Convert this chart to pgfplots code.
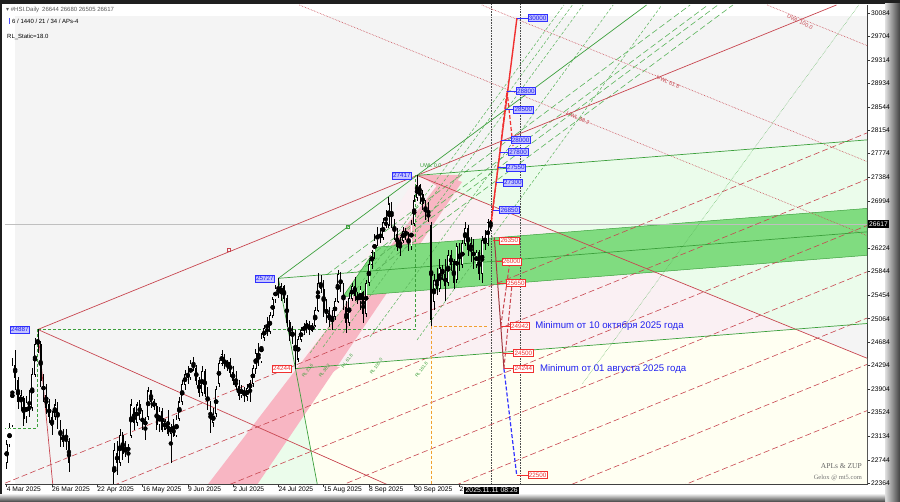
\documentclass[border=0pt]{standalone}
\usepackage{pgfplots}
\pgfplotsset{compat=1.18}
\usepackage{pgfplotstable}
\usepackage{fontspec}
\setmainfont{Liberation Sans}
\newfontfamily\dejavu{DejaVu Sans}
\newfontfamily\serifx{Liberation Serif}

\definecolor{plotbg}{HTML}{F4F4F4}
\definecolor{lgreen}{HTML}{EBFCEB}
\definecolor{lpink}{HTML}{FAF0F3}
\definecolor{cream}{HTML}{FFFFF2}
\definecolor{bandgreen}{HTML}{80DC80}
\definecolor{stripe}{HTML}{F8B6C3}
\definecolor{dred}{HTML}{C84650}
\definecolor{gline}{HTML}{3CA03C}
\definecolor{gdash}{HTML}{5AB45A}
\definecolor{lblfill}{HTML}{C4C4FF}
\definecolor{lblborder}{HTML}{3030FF}
\definecolor{lbltext}{HTML}{2020F0}
\definecolor{mred}{HTML}{F03030}
\definecolor{orng}{HTML}{F0A030}

\pgfplotstableread{
i o h l c
0 22700 23080 22600 23000
1 23000 23350 22950 23280
2 23300 24420 23280 24300
3 24300 24550 23900 24100
4 24050 24100 23580 23700
5 23700 23900 23550 23800
6 23750 23800 23300 23420
7 23450 23800 23350 23700
8 23650 23900 23450 23550
9 23600 24250 23550 24150
10 24150 24750 24100 24650
11 24650 24887 24500 24700
12 24650 24700 23950 24050
13 24050 24150 23700 23800
14 23800 24000 23500 23600
15 23650 23750 23350 23450
16 23450 23550 23150 23300
17 23450 23750 23400 23650
18 23650 23700 23250 23350
19 23350 23400 22950 23050
20 23050 23250 22950 23150
21 23150 23250 22900 23100
22 23050 23100 22550 22700
23 21500 21800 19300 19900
24 20000 20900 19800 20200
25 20200 20700 19900 20300
26 20900 21200 20500 20700
27 20800 21100 20600 20950
28 21200 21600 21100 21450
29 21450 21600 21300 21500
30 21400 21500 21000 21100
31 21100 21500 21000 21400
32 21400 21700 21300 21600
33 21700 22200 21650 22100
34 22000 22100 21800 21900
35 21950 22100 21850 22000
36 22000 22150 21900 22000
37 22000 22250 21850 22200
38 22250 23020 22200 22900
39 22850 23050 22500 22700
40 22700 23250 22650 23150
41 23150 23200 22750 22850
42 22850 23050 22800 22950
43 22950 23000 22700 22900
44 23150 23750 23100 23650
45 23600 23620 23240 23350
46 23350 23700 23300 23650
47 23650 23730 23400 23500
48 23500 23570 23240 23300
49 23300 23450 23070 23400
50 23450 23950 23400 23880
51 23880 23900 23600 23700
52 23700 23750 23560 23620
53 23620 23680 23240 23330
54 23330 23620 23200 23550
55 23550 23600 23200 23250
56 23250 23420 23230 23380
57 23380 23560 23130 23180
58 23180 23330 22700 23280
59 23280 23420 23120 23150
60 23150 23480 23120 23420
61 23420 23780 23380 23700
62 23700 24060 23650 23980
63 23980 24220 23900 24150
64 24150 24280 24000 24100
65 24100 24390 24050 24330
66 24330 24440 24200 24250
67 24250 24300 23980 24050
68 24050 24100 23780 23850
69 23850 24280 23800 24200
70 24200 24230 23780 23830
71 23830 23950 23560 23650
72 23650 23720 23190 23350
73 23350 23600 23280 23500
74 23500 23960 23450 23900
75 24000 24390 23950 24330
76 24330 24550 24280 24480
77 24420 24480 24230 24300
78 24300 24390 24200 24350
79 24350 24420 24100 24180
80 24180 24280 23980 24050
81 24050 24200 23900 23950
82 23950 24050 23730 23800
83 23800 23980 23760 23930
84 23930 23950 23700 23780
85 23780 23990 23720 23920
86 23920 24060 23700 24000
87 24000 24300 23950 24250
88 24250 24560 24150 24500
89 24500 24660 24280 24350
90 24350 24830 24330 24750
91 24750 24960 24700 24900
92 24900 25100 24780 24850
93 24850 25170 24820 25120
94 25120 25420 25080 25380
95 25380 25620 25320 25560
96 25560 25727 25400 25480
97 25480 25650 25350 25600
98 25600 25620 25330 25400
99 25400 25450 24930 25000
100 25000 25050 24700 24780
101 24780 24950 24650 24850
102 24850 24880 24244 24350
103 24400 24780 24350 24720
104 24720 24930 24680 24880
105 24880 25000 24800 24920
106 24920 25050 24830 24980
107 24980 25020 24800 24870
108 24870 24990 24850 24950
109 24950 25260 24930 25200
110 25200 25810 25180 25650
111 25650 25780 25480 25550
112 25550 25700 25100 25200
113 25200 25380 25000 25150
114 25150 25260 24930 25050
115 25050 25200 24880 25100
116 25100 25400 25050 25350
117 25350 25870 25330 25800
118 25800 25830 25500 25550
119 25550 25650 25200 25250
120 25250 25350 24830 25000
121 25000 25480 24950 25400
122 25400 25650 25350 25600
123 25600 25750 25350 25450
124 25450 25500 25300 25350
125 25350 25600 25200 25550
126 25500 25520 25000 25150
127 25150 25700 25100 25650
128 25650 26030 25600 25950
129 25950 26200 25880 26150
130 26150 26450 26050 26350
131 26350 26570 26250 26450
132 26450 26550 26300 26400
133 26400 26720 26350 26650
134 26650 26850 26550 26600
135 26600 27060 26550 26950
136 26950 26980 26550 26650
137 26650 26700 26350 26450
138 26450 26550 26180 26250
139 26250 26400 26100 26350
140 26350 26570 26300 26500
141 26500 26560 26350 26450
142 26450 26480 26180 26250
143 26250 26680 26200 26620
144 26620 27100 26580 27000
145 27050 27417 27000 27250
146 27250 27280 26950 27100
147 27100 27180 26850 26950
148 26950 27010 26680 26800
149 26800 26980 26650 26720
150 26600 26650 24942 25050
151 25350 25800 25200 25700
152 25700 25900 25450 25550
153 25550 26050 25500 25900
154 25900 25950 25700 25800
155 25800 26050 25350 25600
156 25650 26200 25600 26100
157 26100 26200 25850 25950
158 26000 26050 25550 25650
159 25700 26300 25650 26250
160 26250 26300 25850 25950
161 25950 26350 25900 26300
162 26300 26650 26250 26550
163 26550 26600 26100 26200
164 26200 26400 26000 26300
165 26300 26380 25880 25950
166 25950 26200 25900 26150
167 26150 26200 25700 25800
168 25800 26420 25650 26350
169 26350 26520 26200 26300
170 26300 26700 26250 26650
171 26644 26680 26505 26617
}\candles

\tikzset{
  bl/.style={draw=lblborder, fill=lblfill, text=lbltext, font=\fontsize{6.3}{7}\selectfont, inner xsep=1pt, inner ysep=1.3pt, line width=0.5pt, anchor=west},
  rl/.style={draw=mred, fill=white, text=mred, font=\fontsize{6.3}{7}\selectfont, inner xsep=1pt, inner ysep=1.3pt, line width=0.5pt, anchor=west},
  rlg/.style={text=gline, font=\fontsize{4.5}{5}\selectfont, rotate=54, inner sep=0.5pt, anchor=west},
  uwl/.style={text=dred, font=\fontsize{5.5}{6}\selectfont, rotate=-25, inner sep=0.5pt}
}

\begin{document}
\begin{tikzpicture}
\useasboundingbox (0pt,0pt) rectangle (900pt,502pt);
\fill[black!88] (0pt,0pt) rectangle (900pt,502pt);
\fill[white] (2pt,7pt) rectangle (885pt,498pt);
\shade[left color=black!12, right color=black!75] (885pt,0pt) rectangle (900pt,498pt);
\shade[top color=black!15, bottom color=black!75] (0pt,0pt) rectangle (885pt,7pt);

\begin{axis}[
  at={(5pt,18pt)}, anchor=south west, scale only axis,
  width=862pt, height=479pt,
  xmin=-0.6, xmax=304, ymin=22350, ymax=30215,
  axis background/.style={fill=plotbg},
  axis line style={black!75, line width=0.6pt},
  xtick pos=left, ytick pos=right, yticklabel pos=right,
  tick align=outside, major tick length=3pt,
  tick style={black!80, line width=0.5pt},
  xtick={0,16,32,48,64,80,96,112,128,144,160},
  xticklabels={4 Mar 2025,26 Mar 2025,22 Apr 2025,16 May 2025,9 Jun 2025,2 Jul 2025,24 Jul 2025,15 Aug 2025,8 Sep 2025,30 Sep 2025,2},
  xticklabel style={anchor=north west, font=\fontsize{6.7}{7.5}\selectfont, xshift=-1pt, yshift=1.5pt, inner sep=1pt},
  ytick={22364,22744,23134,23524,23904,24294,24684,25064,25454,25844,26224,26994,27384,27774,28154,28544,28934,29314,29704,30084},
  yticklabels={22364,22744,23134,23524,23904,24294,24684,25064,25454,25844,26224,26994,27384,27774,28154,28544,28934,29314,29704,30084},
  yticklabel style={anchor=west, font=\fontsize{6.7}{7.5}\selectfont, xshift=0pt, inner sep=1pt},
]
% white strips
\addplot[fill=white, draw=none] coordinates {(-0.6,30300) (304,30300) (304,30035) (-0.6,30035)} -- cycle;
\addplot[fill=white, draw=none] coordinates {(-0.6,22000) (2.9,22000) (2.9,30300) (-0.6,30300)} -- cycle;
% regions
\addplot[fill=lpink, draw=none] coordinates {(145,27417) (278.7,24891) (102,24244)} -- cycle;
\addplot[fill=lgreen, draw=none] coordinates {(145,27417) (304,28000) (304,26875) (194.9,26475)} -- cycle;
\addplot[fill=lgreen, draw=none] coordinates {(229.0,25830) (304,26105) (304,24985) (278.7,24891)} -- cycle;
\addplot[fill=cream, draw=none] coordinates {(102,24244) (278.7,24891) (304,24415) (304,22284) (110,22284)} -- cycle;
\addplot[fill=lgreen, draw=none] coordinates {(102,24244) (110,22284) (87.7,22284)} -- cycle;
% pink stripe and triangles
\addplot[fill=stripe, draw=none] coordinates {(70.1,22284) (87.7,22284) (160.9,27309) (154.9,27424)} -- cycle;
\addplot[fill=stripe, draw=none] coordinates {(145.4,27424) (160.9,27424) (155.6,27145)} -- cycle;
\addplot[fill=stripe, draw=none] coordinates {(103.6,24271) (117.8,24271) (105.4,23861)} -- cycle;
% green band
\addplot[fill=bandgreen, draw=gline, line width=0.5pt] coordinates {(118.8,25426) (304,26105) (304,26875) (130.9,26240)} -- cycle;

% current price line
\addplot[black!25, line width=0.6pt] coordinates {(-0.6,26617) (304,26617)};

% red dashed parallels
\addplot[dred, line width=0.6pt, dash pattern=on 6pt off 3pt] coordinates {(-0.6,22363) (304,28114)};
\addplot[dred, line width=0.6pt, dash pattern=on 6pt off 3pt] coordinates {(-0.6,21603) (304,27354)};
\addplot[dred, line width=0.6pt, dash pattern=on 6pt off 3pt] coordinates {(-0.6,20843) (304,26594)};
\addplot[dred, line width=0.6pt, dash pattern=on 6pt off 3pt] coordinates {(-0.6,20083) (304,25834)};
\addplot[dred, line width=0.6pt, dash pattern=on 6pt off 3pt] coordinates {(-0.6,19323) (304,25074)};
\addplot[dred, line width=0.6pt, dash pattern=on 6pt off 3pt] coordinates {(-0.6,18563) (304,24314)};
\addplot[dred, line width=0.6pt, dash pattern=on 6pt off 3pt] coordinates {(-0.6,17803) (304,23554)};
% red dotted UWL lines
\addplot[dred, line width=0.6pt, densely dotted] coordinates {(268.7,30215) (304,29549)};
\addplot[dred, line width=0.6pt, densely dotted] coordinates {(167.9,30215) (304,27645)};
\addplot[dred, line width=0.6pt, densely dotted] coordinates {(103.4,30215) (304,26428)};
% green long dash fan
\addplot[gdash, line width=0.6pt, dash pattern=on 6pt off 3pt] coordinates {(113.2,25790) (241.5,30215)};
\addplot[gdash, line width=0.6pt, dash pattern=on 6pt off 3pt] coordinates {(120.3,25816) (247.8,30215)};
\addplot[gdash, line width=0.6pt, dash pattern=on 6pt off 3pt] coordinates {(124.2,25830) (251.3,30215)};
\addplot[gdash, line width=0.6pt, dash pattern=on 6pt off 3pt] coordinates {(130.1,25852) (256.6,30215)};
% green RL fan (dashed, steep)
\addplot[gdash, line width=0.5pt, dash pattern=on 3pt off 2pt] coordinates {(107.2,24501) (196.9,30215)};
\addplot[gdash, line width=0.5pt, dash pattern=on 3pt off 2pt] coordinates {(111.8,24600) (199.9,30215)};
\addplot[gdash, line width=0.5pt, dash pattern=on 3pt off 2pt] coordinates {(118.8,24830) (203.7,30215)};
\addplot[gdash, line width=0.5pt, dash pattern=on 3pt off 2pt] coordinates {(128.4,24764) (214.3,30215)};
\addplot[gdash, line width=0.5pt, dash pattern=on 3pt off 2pt] coordinates {(145,24715) (231.5,30215)};
\addplot[gdash, line width=0.5pt, densely dotted] coordinates {(203.5,24000) (301.1,30215)};

% main solid lines
\addplot[dred, line width=0.7pt] coordinates {(11,24887) (293.2,30215)};
\addplot[dred, line width=0.7pt] coordinates {(11,24887) (137.2,22284)};
\addplot[dred, line width=0.7pt] coordinates {(11,24887) (16.4,22284)};
\addplot[dred, line width=0.7pt] coordinates {(145,27417) (304,24415)};
\addplot[gline, line width=0.7pt] coordinates {(96,25727) (226.1,30215)};
\addplot[gline, line width=0.7pt] coordinates {(96,25727) (304,26490)};
\addplot[gline, line width=0.7pt] coordinates {(145,27417) (304,28000)};
\addplot[gline, line width=0.7pt] coordinates {(102,24244) (304,24985)};
\addplot[gline, line width=0.7pt] coordinates {(96,25727) (110,22284)};
\addplot[gline, mark=square, mark size=1.5pt, only marks] coordinates {(120.5,26572)};
\addplot[dred, mark=square, mark size=1.5pt, only marks] coordinates {(78.6,26190)};

% green dashed boxes
\addplot[gline, line width=0.6pt, densely dashed] coordinates {(11,24887) (144.5,24887) (144.5,27417)};
\addplot[gline, line width=0.6pt, densely dashed] coordinates {(10.8,24887) (10.8,23270) (-0.6,23270)};
% orange dashed
\addplot[orng, line width=0.6pt, densely dashed] coordinates {(169.6,24942) (150,24942) (150,22284)};

% vertical dotted lines
\addplot[black!70, line width=0.6pt, densely dotted] coordinates {(171.1,22284) (171.1,30300)};
\addplot[black!70, line width=0.6pt, densely dotted] coordinates {(181.4,22284) (181.4,30300)};

% candles: wicks
\addplot[only marks, mark=none, error bars/.cd, y dir=both, y explicit, error mark=none,
  error bar style={black, line width=0.5pt}]
  table[x=i, y expr=(\thisrow{h}+\thisrow{l})/2, y error expr=(\thisrow{h}-\thisrow{l})/2] {\candles};
% bodies
\addplot[only marks, mark=none, error bars/.cd, y dir=both, y explicit, error mark=none,
  error bar style={black, line width=1.7pt}]
  table[x=i, y expr=(\thisrow{o}+\thisrow{c})/2, y error expr=abs(\thisrow{c}-\thisrow{o})/2+6] {\candles};
\addplot[only marks, mark=none, restrict expr to domain={\thisrow{c}-\thisrow{o}}{40:100000},
  error bars/.cd, y dir=both, y explicit, error mark=none,
  error bar style={white, line width=0.6pt}]
  table[x=i, y expr=(\thisrow{o}+\thisrow{c})/2, y error expr=abs(\thisrow{c}-\thisrow{o})/2-12] {\candles};

% projection lines
\addplot[mred, line width=1.4pt] coordinates {(171.3,26700) (180.3,30000)};
\addplot[mred, line width=1.2pt, dash pattern=on 4pt off 2pt] coordinates {(171.3,26650) (176.8,28800)};
\addplot[mred, line width=1.2pt, dash pattern=on 4pt off 2pt] coordinates {(176.8,28800) (178.9,27900)};
\addplot[dred!80!black, line width=1pt] coordinates {(172.3,26400) (175.7,24244)};
\addplot[dred, line width=1pt, dash pattern=on 4pt off 2pt] coordinates {(175.7,24244) (178.6,25650)};
\addplot[dred, line width=1pt, dash pattern=on 4pt off 2pt] coordinates {(174.6,24942) (177.8,26000)};
\addplot[blue!80, line width=1.2pt, dash pattern=on 4pt off 2pt] coordinates {(175.7,24244) (180.2,22500)};

% connectors
\addplot[lblborder, line width=0.5pt] coordinates {(180.3,30000) (184.1,30000)};
\addplot[lblborder, line width=0.5pt] coordinates {(176.8,28800) (179.9,28800)};
\addplot[lblborder, line width=0.5pt] coordinates {(176.2,28500) (179.0,28500)};
\addplot[lblborder, line width=0.5pt] coordinates {(174.8,28000) (178.1,28000)};
\addplot[lblborder, line width=0.5pt] coordinates {(174.3,27800) (177.2,27800)};
\addplot[lblborder, line width=0.5pt] coordinates {(173.6,27550) (176.4,27550)};
\addplot[lblborder, line width=0.5pt] coordinates {(172.9,27300) (175.3,27300)};
\addplot[lblborder, line width=0.5pt] coordinates {(171.7,26850) (174.1,26850)};
\addplot[mred, line width=0.5pt] coordinates {(172.0,26350) (174.1,26350)};
\addplot[mred, line width=0.5pt] coordinates {(172.8,26000) (174.9,26000)};
\addplot[mred, line width=0.5pt] coordinates {(173.4,25650) (176.4,25650)};
\addplot[mred, line width=0.5pt] coordinates {(174.6,24942) (177.8,24942)};
\addplot[mred, line width=0.5pt] coordinates {(175.3,24500) (179.0,24500)};
\addplot[mred, line width=0.5pt] coordinates {(175.7,24244) (179.0,24244)};
\addplot[mred, line width=0.5pt] coordinates {(180.2,22500) (184.1,22500)};

% labels right cluster
\node[bl] at (axis cs:184.1,30000) {30000};
\node[bl] at (axis cs:179.9,28800) {28800};
\node[bl] at (axis cs:179.0,28500) {28500};
\node[bl] at (axis cs:178.1,28000) {28000};
\node[bl] at (axis cs:177.2,27800) {27800};
\node[bl] at (axis cs:176.4,27550) {27550};
\node[bl] at (axis cs:175.3,27300) {27300};
\node[bl] at (axis cs:174.1,26850) {26850};
\node[rl] at (axis cs:174.1,26350) {26350};
\node[rl] at (axis cs:174.9,26000) {26000};
\node[rl] at (axis cs:176.4,25650) {25650};
\node[rl] at (axis cs:177.8,24942) {24942};
\node[rl] at (axis cs:179.0,24500) {24500};
\node[rl] at (axis cs:179.0,24244) {24244};
\node[rl] at (axis cs:184.1,22500) {22500};
% labels left
\node[bl, anchor=east] at (axis cs:8.2,24887) {24887};
\node[bl, anchor=east] at (axis cs:94.8,25727) {25727};
\node[bl, anchor=east] at (axis cs:143.2,27417) {27417};
\node[rl, anchor=east] at (axis cs:100.8,24244) {24244};
% texts
\node[anchor=west, text=lbltext, font=\fontsize{9.6}{11}\selectfont, inner sep=0pt] at (axis cs:186.7,24942) {Minimum от 10 октября 2025 года};
\node[anchor=west, text=lbltext, font=\fontsize{9.6}{11}\selectfont, inner sep=0pt] at (axis cs:188.4,24244) {Minimum от 01 августа 2025 года};
\node[anchor=west, text=gline, font=\fontsize{5.5}{6}\selectfont, inner sep=0pt] at (axis cs:146,27570) {UWL 0.0};
\node[uwl] at (axis cs:280.3,29936) {UWL 100.0};
\node[uwl] at (axis cs:233.7,28951) {UWL 61.8};
\node[uwl] at (axis cs:201.9,28360) {UWL 38.2};
\node[rlg] at (axis cs:104.5,24100) {RL 23.6};
\node[rlg] at (axis cs:110.5,24100) {RL 38.2};
\node[rlg] at (axis cs:118.5,24250) {RL 61.8};
\node[rlg] at (axis cs:128.5,24150) {RL 100.0};
\node[rlg] at (axis cs:144.5,24100) {RL 161.8};
\end{axis}

% header
\node[anchor=west, font=\fontsize{6}{7}\selectfont, text=black!65, inner sep=0pt] at (6pt,492pt) {{\dejavu ▾} \#HSI.Daily\enspace 26644 26680 26505 26617};
\fill[blue!70] (9pt,478pt) rectangle (10pt,484pt);
\node[anchor=west, font=\fontsize{6}{7}\selectfont, inner sep=0pt] at (12pt,481pt) {6 / 1440 / 21 / 34 / APs-4};
\node[anchor=west, font=\fontsize{6}{7}\selectfont, inner sep=0pt] at (7pt,465pt) {RL\_Static=18.0};
% current price box
\node[anchor=west, fill=black, text=white, font=\fontsize{6.7}{7.5}\selectfont, inner xsep=1pt, inner ysep=1.3pt] at (868pt,278pt) {26617};
% time box
\node[anchor=west, fill=black, text=white, font=\fontsize{6.8}{7.5}\selectfont, inner xsep=1.5pt, inner ysep=1pt] at (464pt,11.5pt) {2025.11.11 08:26};
% signature
\node[anchor=east, font=\serifx\fontsize{7.5}{8}\selectfont, text=black!60, inner sep=0pt] at (862pt,36pt) {APLs \& ZUP};
\node[anchor=east, font=\serifx\fontsize{6.5}{7}\selectfont, text=black!55, inner sep=0pt] at (862pt,24pt) {Gelox @ mt5.com};
\end{tikzpicture}
\end{document}
